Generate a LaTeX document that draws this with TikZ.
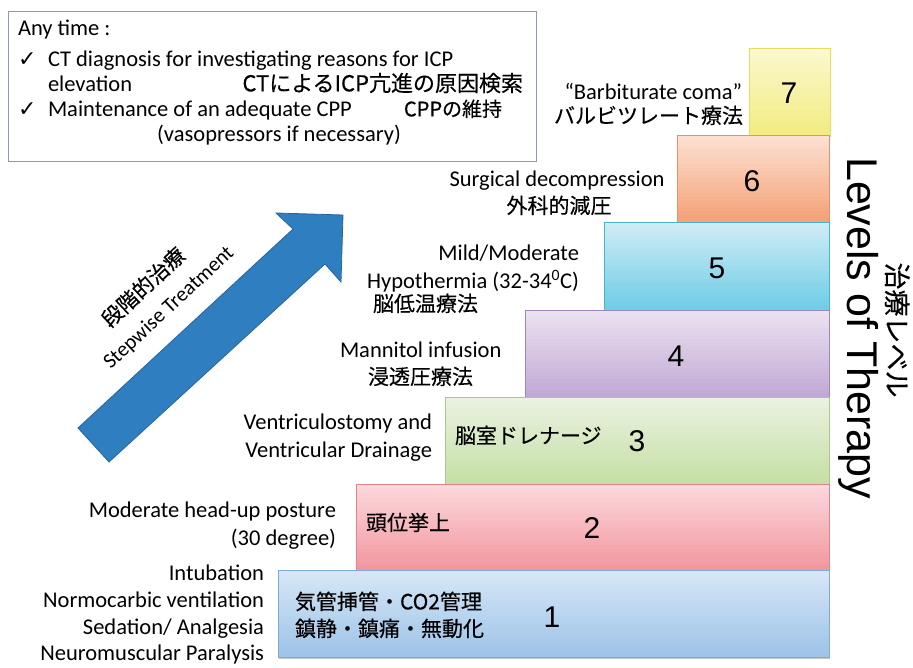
\documentclass[tikz,border=0pt]{standalone}
\usepackage{fontspec}
\setmainfont{Carlito}
\newfontfamily\jp[FakeBold=0.35]{Noto Sans CJK JP}
\newfontfamily\arl{Liberation Sans}
\newfontfamily\djv{DejaVu Sans}
\definecolor{aTop}{HTML}{D6E6F6}\definecolor{aBot}{HTML}{9EC4E8}\definecolor{aBd}{HTML}{7EA9D8}
\definecolor{bTop}{HTML}{FBD8DC}\definecolor{bBot}{HTML}{F2979F}\definecolor{bBd}{HTML}{E0848C}
\definecolor{cTop}{HTML}{EAF2E0}\definecolor{cBot}{HTML}{C6DFA6}\definecolor{cBd}{HTML}{A9CA86}
\definecolor{dTop}{HTML}{EBE2F1}\definecolor{dBot}{HTML}{C1A9D5}\definecolor{dBd}{HTML}{9F86BC}
\definecolor{eTop}{HTML}{CFECF5}\definecolor{eBot}{HTML}{6FCDE6}\definecolor{eBd}{HTML}{48B3D3}
\definecolor{fTop}{HTML}{FDE0D2}\definecolor{fBot}{HTML}{F4A277}\definecolor{fBd}{HTML}{EA9068}
\definecolor{gTop}{HTML}{FBF8CF}\definecolor{gBot}{HTML}{F2EC82}\definecolor{gBd}{HTML}{E6DD5A}
\definecolor{arrowblue}{RGB}{46,126,192}
\definecolor{arrowedge}{RGB}{40,100,160}
\definecolor{infobd}{RGB}{140,150,200}
\definecolor{shadowgray}{RGB}{200,200,200}
\tikzset{
  lbl/.style={font=\fontsize{22.5}{27}\selectfont},
  jlbl/.style={font=\jp\fontsize{#1}{25}\selectfont},
  jlbl/.default=21,
  num/.style={font=\arl\fontsize{30}{36}\selectfont},
  chk/.style={font=\djv\fontsize{22}{24}\selectfont, anchor=mid west},
}
% name, x, y, w, h, colour prefix
\newcommand{\lvlbox}[6]{%
  \fill[shadowgray] ({#2+1.2},{#3+1.6}) rectangle ({#2+#4+1.2},{#3+#5+1.6});
  \foreach \i in {0,...,23}{%
    \pgfmathtruncatemacro{\pp}{round(\i*100/23)}%
    \fill[#6Bot!\pp!#6Top] (#2,{#3+\i*#5/24}) rectangle ({#2+#4},{#3+(\i+1)*#5/24+0.4});
  }
  \node[draw=#6Bd, line width=0.9pt, minimum width=#4pt, minimum height=#5pt, anchor=north west] (#1) at (#2,#3) {};
}
\begin{document}
\begin{tikzpicture}[x=1pt,y=-1pt, every node/.style={inner sep=0pt, outer sep=0pt}]
\useasboundingbox (0,0) rectangle (913,668);
\fill[white] (0,0) rectangle (913,668);

% info box
\node[draw=infobd, line width=1pt, minimum width=528pt, minimum height=150pt, anchor=north west] (info) at (8,12) {};
\node[lbl, anchor=mid west] (t0) at (18,33) {Any time :};
\node[chk] (c1) at (18,64) {✓};
\node[lbl, anchor=mid west] (t1) at (48,64) {CT diagnosis for investigating reasons for ICP};
\node[lbl, anchor=mid west] (t2) at (48,89) {elevation};
\node[jlbl=22, anchor=mid east] (t3) at (523,89) {CTによるICP亢進の原因検索};
\node[chk] (c2) at (18,114) {✓};
\node[lbl, anchor=mid west] (t4) at (48,114) {Maintenance of an adequate CPP};
\node[jlbl=20, anchor=mid west] (t5) at (404,114) {CPPの維持};
\node[lbl, anchor=mid] (t6) at (279,139) {(vasopressors if necessary)};

% arrow
\filldraw[fill=arrowblue, draw=arrowedge, line width=0.8pt, line join=miter]
  (78,428) -- (293,229) -- (276,213) -- (343,215) -- (341,282) -- (325,264) -- (109,462) -- cycle;
\node[jlbl=21, rotate=43] (s1) at (143,287) {段階的治療};
\node[font=\fontsize{21}{25}\selectfont, rotate=43] (s2) at (169,308) {Stepwise Treatment};

% level boxes
\lvlbox{b7}{749}{48}{81}{87}{g}
\lvlbox{b6}{677}{135}{152}{87}{f}
\lvlbox{b5}{604}{222}{225}{88}{e}
\lvlbox{b4}{525}{310}{304}{87}{d}
\lvlbox{b3}{445}{397}{384}{87}{c}
\lvlbox{b2}{356}{484}{473}{86}{b}
\lvlbox{b1}{278}{570}{551}{87}{a}

% numbers
\node[num] (n1) at (552,617) {1};
\node[num] (n2) at (592,528) {2};
\node[num] (n3) at (637,441) {3};
\node[num] (n4) at (676,356) {4};
\node[num] (n5) at (717,268) {5};
\node[num] (n6) at (752,181) {6};
\node[num] (n7) at (789,93) {7};

% texts inside boxes
\node[jlbl, anchor=mid west] (j1a) at (295,607) {気管挿管・CO2管理};
\node[jlbl, anchor=mid west] (j1b) at (295,634) {鎮静・鎮痛・無動化};
\node[jlbl, anchor=mid west] (j2) at (366,528) {頭位挙上};
\node[jlbl, anchor=mid west] (j3) at (455,441) {脳室ドレナージ};

% labels
\node[lbl, anchor=mid east] (l7a) at (742,97) {“Barbiturate coma”};
\node[jlbl, anchor=mid east] (l7b) at (743,121) {バルビツレート療法};
\node[lbl, anchor=mid] (l6a) at (557,184) {Surgical decompression};
\node[jlbl, anchor=mid] (l6b) at (559,211) {外科的減圧};
\node[lbl, anchor=mid east] (l5a) at (579,258) {Mild/Moderate};
\node[lbl, anchor=mid east] (l5b) at (579,286) {Hypothermia (32-34\textsuperscript{0}C)};
\node[jlbl, anchor=mid west] (l5c) at (373,309) {脳低温療法};
\node[lbl, anchor=mid west] (l4a) at (340,355) {Mannitol infusion};
\node[jlbl, anchor=mid west] (l4b) at (368,382) {浸透圧療法};
\node[lbl, anchor=mid east] (l3a) at (432,427) {Ventriculostomy and};
\node[lbl, anchor=mid east] (l3b) at (432,455) {Ventricular Drainage};
\node[lbl, anchor=mid east] (l2a) at (336,515) {Moderate head-up posture};
\node[lbl, anchor=mid east] (l2b) at (336,543) {(30 degree)};
\node[lbl, anchor=mid east] (l1a) at (264,578) {Intubation};
\node[lbl, anchor=mid east] (l1b) at (264,605) {Normocarbic ventilation};
\node[lbl, anchor=mid east] (l1c) at (264,632) {Sedation/ Analgesia};
\node[lbl, anchor=mid east] (l1d) at (264,658) {Neuromuscular Paralysis};

% vertical titles
\node[font=\arl\fontsize{43}{50}\selectfont, rotate=-90, anchor=base] (lv) at (847,328) {Levels of Therapy};
\node[jlbl=27, rotate=-90, anchor=base] (lvj) at (887,330) {治療レベル};
\end{tikzpicture}
\end{document}
